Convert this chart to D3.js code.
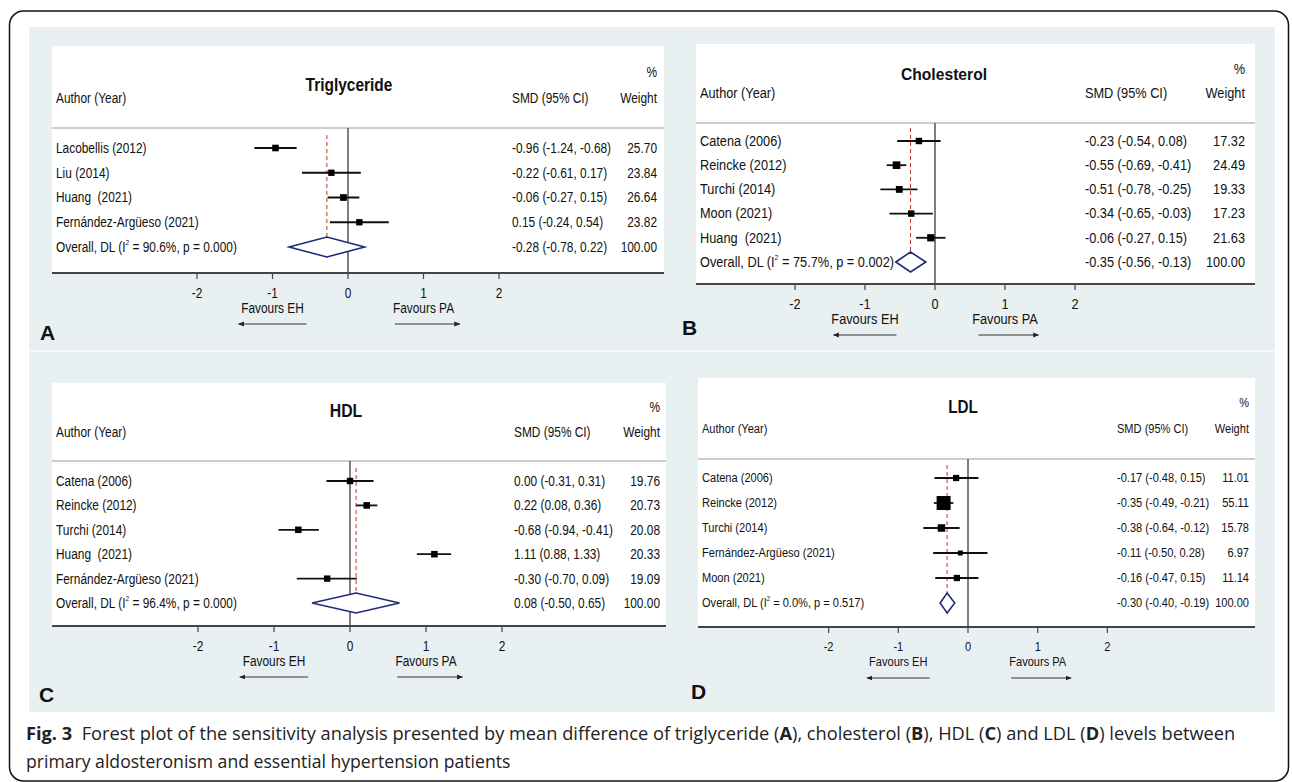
<!DOCTYPE html>
<html>
<head>
<meta charset="utf-8">
<script src="https://cdn.jsdelivr.net/npm/d3@7"></script>
<style>
  html, body { margin: 0; padding: 0; background: #fff; }
  svg { display: block; }
  text { white-space: pre; font-family: "Liberation Sans", Arial, sans-serif; }
</style>
</head>
<body>
<div id="chart"></div>
<script>
// svg nominal area
var svgWidth = 1292;
var svgHeight = 782;

// shared axis ticks and footer labels
var xTicks = [-2, -1, 0, 1, 2];
var favours = ['Favours EH', 'Favours PA'];
var panelTitles = ['Triglyceride', 'Cholesterol', 'HDL', 'LDL'];
var panelLetters = ['A', 'B', 'C', 'D'];

// A - triglyceride
var tgStudies = ['Lacobellis (2012)', 'Liu (2014)', 'Huang  (2021)', 'Fernández-Argüeso (2021)'];
var tgSmd = [-0.96, -0.22, -0.06, 0.15];
var tgLow = [-1.24, -0.61, -0.27, -0.24];
var tgHigh = [-0.68, 0.17, 0.15, 0.54];
var tgWeight = [25.70, 23.84, 26.64, 23.82];
var tgOverall = [-0.28, -0.78, 0.22];
var tgHet = ['90.6%', '0.000'];

// B - cholesterol
var chStudies = ['Catena (2006)', 'Reincke (2012)', 'Turchi (2014)', 'Moon (2021)', 'Huang  (2021)'];
var chSmd = [-0.23, -0.55, -0.51, -0.34, -0.06];
var chLow = [-0.54, -0.69, -0.78, -0.65, -0.27];
var chHigh = [0.08, -0.41, -0.25, -0.03, 0.15];
var chWeight = [17.32, 24.49, 19.33, 17.23, 21.63];
var chOverall = [-0.35, -0.56, -0.13];
var chHet = ['75.7%', '0.002'];

// C - HDL
var hdlStudies = ['Catena (2006)', 'Reincke (2012)', 'Turchi (2014)', 'Huang  (2021)', 'Fernández-Argüeso (2021)'];
var hdlSmd = [0.00, 0.22, -0.68, 1.11, -0.30];
var hdlLow = [-0.31, 0.08, -0.94, 0.88, -0.70];
var hdlHigh = [0.31, 0.36, -0.41, 1.33, 0.09];
var hdlWeight = [19.76, 20.73, 20.08, 20.33, 19.09];
var hdlOverall = [0.08, -0.50, 0.65];
var hdlHet = ['96.4%', '0.000'];

// D - LDL
var ldlStudies = ['Catena (2006)', 'Reincke (2012)', 'Turchi (2014)', 'Fernández-Argüeso (2021)', 'Moon (2021)'];
var ldlSmd = [-0.17, -0.35, -0.38, -0.11, -0.16];
var ldlLow = [-0.48, -0.49, -0.64, -0.50, -0.47];
var ldlHigh = [0.15, -0.21, -0.12, 0.28, 0.15];
var ldlWeight = [11.01, 55.11, 15.78, 6.97, 11.14];
var ldlOverall = [-0.30, -0.40, -0.19];
var ldlHet = ['0.0%', '0.517'];

// caption
var captionLine1 = [
    ['Fig. 3', true], ['  Forest plot of the sensitivity analysis presented by mean difference of triglyceride (', false],
    ['A', true], ['), cholesterol (', false], ['B', true], ['), HDL (', false], ['C', true],
    [') and LDL (', false], ['D', true], [') levels between', false]
];
var captionLine2 = 'primary aldosteronism and essential hypertension patients';

// group the arrays per panel
var panels = [
    { studies: tgStudies, smd: tgSmd, low: tgLow, high: tgHigh, weight: tgWeight, overall: tgOverall, het: tgHet },
    { studies: chStudies, smd: chSmd, low: chLow, high: chHigh, weight: chWeight, overall: chOverall, het: chHet },
    { studies: hdlStudies, smd: hdlSmd, low: hdlLow, high: hdlHigh, weight: hdlWeight, overall: hdlOverall, het: hdlHet },
    { studies: ldlStudies, smd: ldlSmd, low: ldlLow, high: ldlHigh, weight: ldlWeight, overall: ldlOverall, het: ldlHet }
];

// layout of each panel (pixels)
var layout = [
    { x: 52, y: 46, w: 612, axisY: 273, sepY: 128, zero: 348, unit: 75.5, row0: 148, rowN: 247,
      titleX: 349, titleY: 85, headY: 98, pctY: 72, labelX: 56, smdX: 512, wRight: 657,
      letterX: 40, letterY: 332, box: 1.3, fs: 14.5, sx: 0.82, tfs: 18, tsx: 0.86 },
    { x: 696, y: 44, w: 559, axisY: 284, sepY: 123, zero: 935, unit: 70, row0: 141, rowN: 262,
      titleX: 944, titleY: 74, headY: 93, pctY: 69, labelX: 700, smdX: 1085, wRight: 1245,
      letterX: 682, letterY: 327, box: 1.55, fs: 14.5, sx: 0.88, tfs: 16.5, tsx: 0.95 },
    { x: 52, y: 383, w: 614, axisY: 626, sepY: 461, zero: 350, unit: 76, row0: 481, rowN: 603,
      titleX: 346, titleY: 411, headY: 432, pctY: 407, labelX: 56, smdX: 514, wRight: 660,
      letterX: 39, letterY: 694, box: 1.45, fs: 14.5, sx: 0.82, tfs: 18, tsx: 0.88 },
    { x: 698, y: 378, w: 557, axisY: 627, sepY: 459, zero: 968, unit: 69.7, row0: 478, rowN: 603,
      titleX: 963, titleY: 407, headY: 429, pctY: 403, labelX: 702, smdX: 1117, wRight: 1249,
      letterX: 691, letterY: 691, box: 1.88, fs: 13.5, sx: 0.82, tfs: 18, tsx: 0.85 }
];

// plain hyphen for negatives, as in the original
var f2 = d3.formatLocale({ decimal: '.', thousands: ',', grouping: [3], currency: ['', ''], minus: '-' }).format('.2f');

var svg = d3.select('#chart')
    .append('svg')
    .attr('width', svgWidth)
    .attr('height', svgHeight);

// arrow head
svg.append('defs').append('marker')
    .attr('id', 'arr')
    .attr('viewBox', '0 0 10 10')
    .attr('refX', 9).attr('refY', 5)
    .attr('markerWidth', 6).attr('markerHeight', 6)
    .attr('orient', 'auto')
    .append('path')
    .attr('d', 'M0,1L10,5L0,9Z')
    .attr('fill', '#222');

// outer frame
svg.append('rect')
    .attr('x', 9.5).attr('y', 11)
    .attr('width', 1279).attr('height', 770)
    .attr('rx', 14)
    .attr('fill', '#fff')
    .attr('stroke', '#111')
    .attr('stroke-width', 1.5);

// light figure background
svg.append('rect')
    .attr('x', 29).attr('y', 27)
    .attr('width', 1246).attr('height', 685)
    .attr('fill', '#e8f0f2');

svg.append('line')
    .attr('x1', 29).attr('x2', 1275)
    .attr('y1', 351).attr('y2', 351)
    .attr('stroke', '#fafcfc')
    .attr('stroke-width', 1.5);

// text helper, condensed by horizontal scale
function label(g, x, y, str, o) {
    o = o || {};
    return g.append('text')
        .attr('transform', `translate(${x},${y}) scale(${o.sx || 1},1)`)
        .attr('text-anchor', o.anchor || 'start')
        .attr('dominant-baseline', 'central')
        .style('font-size', (o.size || 14) + 'px')
        .style('font-weight', o.bold ? 'bold' : 'normal')
        .style('fill', o.fill || '#111')
        .text(str);
}

panels.forEach(function (p, i) {
    var L = layout[i];
    var g = svg.append('g');

    var x = d3.scaleLinear()
        .domain([-2, 2])
        .range([L.zero - 2 * L.unit, L.zero + 2 * L.unit]);

    var rows = d3.range(p.studies.length + 1);
    var y = d3.scalePoint()
        .domain(rows)
        .range([L.row0, L.rowN]);

    var tOpt = { size: L.fs, sx: L.sx };

    // white plot area
    g.append('rect')
        .attr('x', L.x).attr('y', L.y)
        .attr('width', L.w).attr('height', L.axisY - L.y)
        .attr('fill', '#fff');

    // header
    label(g, L.titleX, L.titleY, panelTitles[i], { size: L.tfs, sx: L.tsx, bold: true, anchor: 'middle' });
    label(g, L.labelX, L.headY, 'Author (Year)', tOpt);
    label(g, L.smdX, L.headY, 'SMD (95% CI)', tOpt);
    label(g, L.wRight, L.pctY, '%', Object.assign({ anchor: 'end' }, tOpt));
    label(g, L.wRight, L.headY, 'Weight', Object.assign({ anchor: 'end' }, tOpt));

    g.append('line')
        .attr('x1', L.x).attr('x2', L.x + L.w)
        .attr('y1', L.sepY).attr('y2', L.sepY)
        .attr('stroke', '#cdcdcd')
        .attr('stroke-width', 2);

    // null line
    g.append('line')
        .attr('x1', x(0)).attr('x2', x(0))
        .attr('y1', L.sepY).attr('y2', L.axisY)
        .attr('stroke', '#555')
        .attr('stroke-width', 1.5);

    // overall estimate line
    g.append('line')
        .attr('x1', x(p.overall[0])).attr('x2', x(p.overall[0]))
        .attr('y1', y(0) - 13).attr('y2', y(rows.length - 1) + 11)
        .attr('stroke', '#c0392b')
        .attr('stroke-width', 1)
        .attr('stroke-dasharray', '4,3');

    // study rows
    p.studies.forEach(function (s, j) {
        var yy = y(j);
        label(g, L.labelX, yy, s, tOpt);
        label(g, L.smdX, yy, `${f2(p.smd[j])} (${f2(p.low[j])}, ${f2(p.high[j])})`, tOpt);
        label(g, L.wRight, yy, f2(p.weight[j]), Object.assign({ anchor: 'end' }, tOpt));

        g.append('line')
            .attr('x1', x(p.low[j])).attr('x2', x(p.high[j]))
            .attr('y1', yy).attr('y2', yy)
            .attr('stroke', '#111')
            .attr('stroke-width', 1.8);

        var side = L.box * Math.sqrt(p.weight[j]);
        g.append('rect')
            .attr('x', x(p.smd[j]) - side / 2)
            .attr('y', yy - side / 2)
            .attr('width', side).attr('height', side)
            .attr('fill', '#000');
    });

    // overall row
    var yo = y(rows.length - 1);
    var ov = g.append('text')
        .attr('transform', `translate(${L.labelX},${yo}) scale(${L.sx},1)`)
        .attr('dominant-baseline', 'central')
        .style('font-size', L.fs + 'px')
        .style('fill', '#111');
    ov.append('tspan').text('Overall, DL (I');
    ov.append('tspan').attr('dy', -5).style('font-size', (L.fs * 0.55) + 'px').text('2');
    ov.append('tspan').attr('dy', 5).text(` = ${p.het[0]}, p = ${p.het[1]})`);

    label(g, L.smdX, yo, `${f2(p.overall[0])} (${f2(p.overall[1])}, ${f2(p.overall[2])})`, tOpt);
    label(g, L.wRight, yo, f2(100), Object.assign({ anchor: 'end' }, tOpt));

    var dh = 10;
    g.append('path')
        .attr('d', `M${x(p.overall[1])},${yo}L${x(p.overall[0])},${yo - dh}L${x(p.overall[2])},${yo}L${x(p.overall[0])},${yo + dh}Z`)
        .attr('fill', '#fff')
        .attr('stroke', '#1f2a7a')
        .attr('stroke-width', 1.6);

    // x axis
    g.append('line')
        .attr('x1', L.x).attr('x2', L.x + L.w)
        .attr('y1', L.axisY).attr('y2', L.axisY)
        .attr('stroke', '#444')
        .attr('stroke-width', 2);

    g.selectAll('.tick')
        .data(xTicks)
        .enter()
        .append('line')
        .attr('x1', d => x(d)).attr('x2', d => x(d))
        .attr('y1', L.axisY).attr('y2', L.axisY + 6)
        .attr('stroke', '#444')
        .attr('stroke-width', 1.2);

    xTicks.forEach(function (d) {
        label(g, x(d), L.axisY + 20, String(d), { size: L.fs, sx: L.sx, anchor: 'middle' });
    });

    // favours labels and arrows
    label(g, x(-1), L.axisY + 35, favours[0], { size: L.fs, sx: L.sx, anchor: 'middle' });
    label(g, x(1), L.axisY + 35, favours[1], { size: L.fs, sx: L.sx, anchor: 'middle' });

    g.append('line')
        .attr('x1', x(-0.55)).attr('x2', x(-1.45))
        .attr('y1', L.axisY + 51).attr('y2', L.axisY + 51)
        .attr('stroke', '#333').attr('stroke-width', 1)
        .attr('marker-end', 'url(#arr)');
    g.append('line')
        .attr('x1', x(0.62)).attr('x2', x(1.48))
        .attr('y1', L.axisY + 51).attr('y2', L.axisY + 51)
        .attr('stroke', '#333').attr('stroke-width', 1)
        .attr('marker-end', 'url(#arr)');

    // panel letter
    label(g, L.letterX, L.letterY, panelLetters[i], { size: 21, bold: true });
});

// caption, squeezed to the width of the original condensed face
function captionLine(yy, parts, target) {
    var t = svg.append('text')
        .attr('y', 0)
        .attr('dominant-baseline', 'alphabetic')
        .style('font-family', '"Open Sans", "Noto Sans", sans-serif')
        .style('font-size', '17.5px')
        .style('fill', '#222');
    parts.forEach(function (pt) {
        t.append('tspan').style('font-weight', pt[1] ? 'bold' : 'normal').text(pt[0]);
    });
    var wNat = t.node().getComputedTextLength();
    t.attr('transform', `translate(26,${yy}) scale(${target / wNat},1)`);
}
captionLine(740, captionLine1, 1210);
captionLine(768, [[captionLine2, false]], 485);
</script>
</body>
</html>
